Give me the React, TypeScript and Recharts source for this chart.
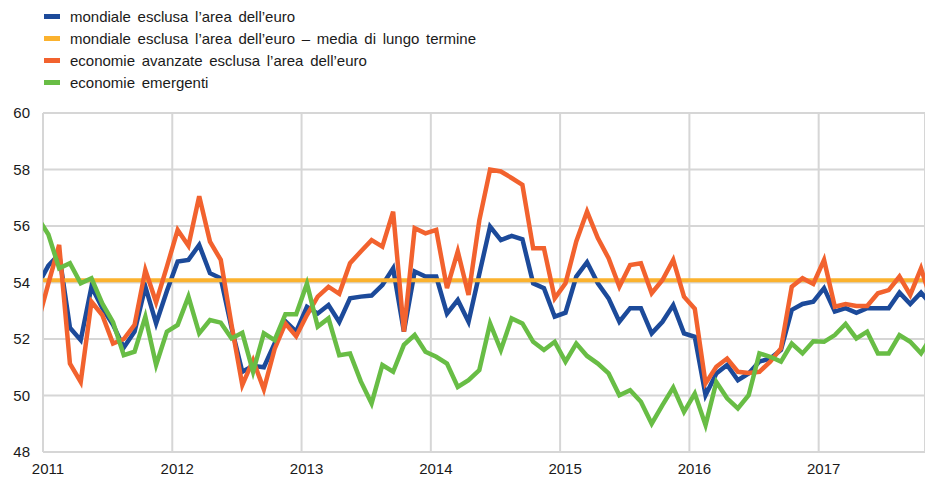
import React from 'react';
import { LineChart, Line, XAxis, YAxis, CartesianGrid } from 'recharts';

// Monthly values, Dec 2010 .. Nov 2017 (first and last are only partly visible)
const world = [
  53.9, 54.6, 55.0, 52.4, 51.96, 53.85, 53.1, 52.5, 51.7, 52.26, 53.85, 52.55, 53.7,
  54.74, 54.8, 55.33, 54.33, 54.15, 52.4, 50.84, 51.05, 51.0, 51.84, 52.63, 52.26,
  53.14, 52.9, 53.2, 52.6, 53.44, 53.5, 53.54, 53.91, 54.5, 52.26, 54.39, 54.21,
  54.21, 52.9, 53.38, 52.61, 54.3, 55.98, 55.5, 55.65, 55.53, 53.97, 53.8, 52.79,
  52.93, 54.21, 54.72, 53.97, 53.44, 52.61, 53.09, 53.09, 52.2, 52.61, 53.2, 52.2,
  52.08, 50.01, 50.78, 51.08, 50.54, 50.78, 51.2, 51.31, 51.61, 53.03, 53.24, 53.32,
  53.8, 52.97, 53.09, 52.93, 53.09, 53.09, 53.09, 53.64, 53.24, 53.64, 53.2,
];
const advanced = [
  52.55, 53.97, 55.33, 51.13, 50.48, 53.32, 52.85, 51.84, 52.0, 52.5, 54.44, 53.3, 54.56,
  55.86, 55.3, 57.05, 55.45, 54.8, 52.5, 50.37, 51.25, 50.22, 51.65, 52.55, 52.1,
  52.85, 53.5, 53.85, 53.6, 54.68, 55.1, 55.5, 55.27, 56.51, 52.26, 55.92, 55.74,
  55.86, 53.8, 55.1, 53.56, 56.2, 58.0, 57.93, 57.7, 57.46, 55.21, 55.21, 53.44,
  53.97, 55.45, 56.51, 55.57, 54.86, 53.85, 54.62, 54.68, 53.62, 54.09, 54.8, 53.5,
  53.07, 50.43, 51.02, 51.31, 50.84, 50.8, 50.84, 51.2, 51.67, 53.85, 54.15, 53.95,
  54.8, 53.14, 53.24, 53.17, 53.17, 53.62, 53.73, 54.21, 53.56, 54.5, 53.3,
];
const emerging = [
  56.3, 55.7, 54.5, 54.68, 53.97, 54.15, 53.26, 52.6, 51.43, 51.55, 52.79, 51.08, 52.26,
  52.5, 53.5, 52.2, 52.67, 52.58, 52.02, 52.22, 50.84, 52.2, 51.96, 52.88, 52.88,
  53.96, 52.44, 52.73, 51.43, 51.49, 50.5, 49.72, 51.08, 50.84, 51.79, 52.14, 51.55,
  51.37, 51.13, 50.3, 50.54, 50.9, 52.55, 51.61, 52.73, 52.55, 51.9, 51.61, 51.9,
  51.2, 51.84, 51.4, 51.13, 50.78, 50.01, 50.19, 49.78, 49.0, 49.66, 50.28, 49.42,
  50.07, 48.95, 50.48, 49.9, 49.54, 50.01, 51.49, 51.37, 51.2, 51.84, 51.49, 51.92,
  51.9, 52.14, 52.53, 52.02, 52.26, 51.49, 51.49, 52.14, 51.9, 51.49, 52.1,
];
const longTermMean = 54.08;

const yearLabels = ['2011', '2012', '2013', '2014', '2015', '2016', '2017'];
const yTicks = [48, 50, 52, 54, 56, 58, 60];

const seriesNames = [
  'mondiale esclusa l’area dell’euro',
  'mondiale esclusa l’area dell’euro – media di lungo termine',
  'economie avanzate esclusa l’area dell’euro',
  'economie emergenti',
];
const colors = ['#1c4a9a', '#fbb22e', '#f2622e', '#68bd45'];

const data = world.map((w, k) => ({
  t: k - 0.5,
  world: w,
  mean: longTermMean,
  advanced: advanced[k],
  emerging: emerging[k],
}));
const xTicks = yearLabels.map((_, j) => j * 12);

const FONT = '"Liberation Sans", Arial, sans-serif';

const XTick = (props: any) => {
  const { x, y, payload } = props;
  const label = yearLabels[Math.round(payload.value / 12)];
  return (
    <text x={x + 5} y={y + 14} textAnchor="middle" fontSize={15} fontFamily={FONT} fill="#1a1a1a">
      {label}
    </text>
  );
};

export default function App() {
  return (
    <div style={{ position: 'absolute', left: 0, top: 0, width: 925, height: 477, background: '#fff' }}>
      <div style={{ position: 'absolute', left: 0, top: 0, fontFamily: FONT, fontSize: 15, color: '#1a1a1a' }}>
        {seriesNames.map((n, j) => (
          <div key={n} style={{ position: 'absolute', left: 44, top: 6 + j * 22, height: 20, whiteSpace: 'nowrap', display: 'flex', alignItems: 'center' }}>
            <span style={{ display: 'inline-block', width: 16, height: 5, background: colors[j], marginRight: 10 }} />
            <span style={{ wordSpacing: 2.5 }}>{n}</span>
          </div>
        ))}
      </div>
      <LineChart width={925} height={477} data={data} margin={{ top: 113, right: 0, bottom: 0, left: 0 }}>
        <CartesianGrid stroke="#d6d6d6" strokeWidth={2} />
        <XAxis
          dataKey="t"
          type="number"
          domain={[0, 81.87]}
          allowDataOverflow
          ticks={xTicks}
          tickLine={false}
          axisLine={false}
          height={25}
          tick={<XTick />}
          interval={0}
        />
        <YAxis
          type="number"
          domain={[48, 60]}
          ticks={yTicks}
          width={43}
          tickLine={false}
          axisLine={false}
          tickSize={0}
          tickMargin={13}
          tick={{ fontSize: 15, fontFamily: FONT, fill: '#1a1a1a' }}
          interval={0}
        />
        <Line type="linear" dataKey="world" stroke={colors[0]} strokeWidth={4.5} dot={false} isAnimationActive={false} />
        <Line type="linear" dataKey="mean" stroke={colors[1]} strokeWidth={4} dot={false} isAnimationActive={false} />
        <Line type="linear" dataKey="advanced" stroke={colors[2]} strokeWidth={4.5} dot={false} isAnimationActive={false} />
        <Line type="linear" dataKey="emerging" stroke={colors[3]} strokeWidth={4.5} dot={false} isAnimationActive={false} />
      </LineChart>
    </div>
  );
}
